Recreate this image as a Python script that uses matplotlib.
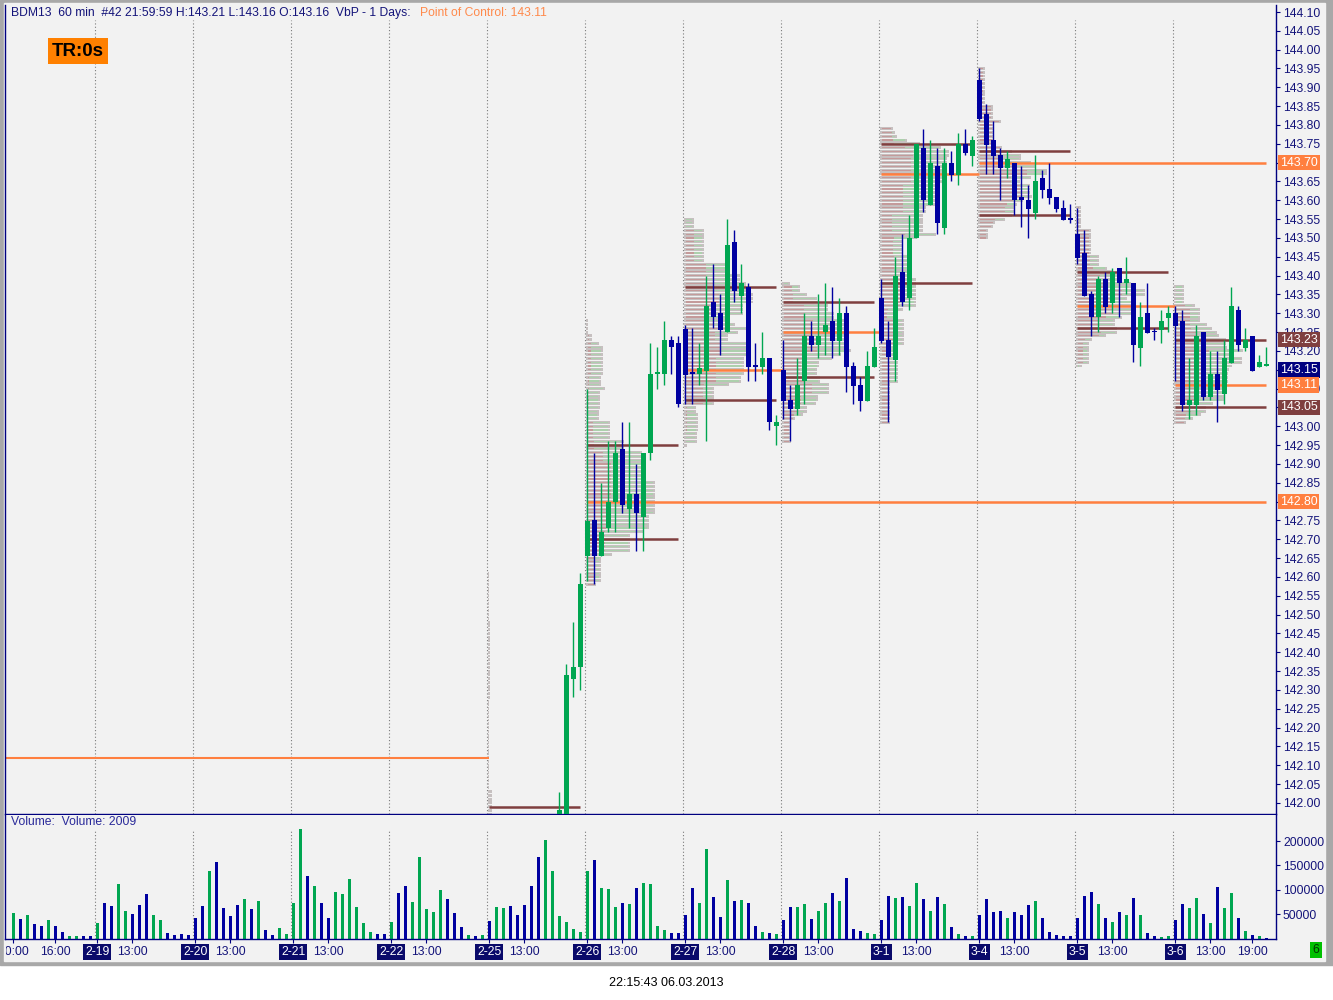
import matplotlib
matplotlib.use("Agg")
import matplotlib.pyplot as plt
import matplotlib.transforms as mtransforms
from matplotlib.patches import Rectangle
import numpy as np

plt.rcParams["font.family"] = ["Liberation Sans", "DejaVu Sans"]

W, H = 1333, 1000
BARS_PER_DAY = 14          # 08:00 .. 21:00 hourly bars
FIRST_VOL_INDEX = -12      # 2-18 10:00
FIRST_OHLC_INDEX = 66      # 2-25 18:00

DAY_LABELS = ["2-19", "2-20", "2-21", "2-22", "2-25", "2-26",
              "2-27", "2-28", "3-1", "3-4", "3-5", "3-6"]

# hourly volume, one list per session
vol_0218 = [52440, 40020, 48300, 29670, 25530, 37950, 25530, 13110, 4830, 4830, 4140, 4830]
vol_0219 = [31740, 73140, 66930, 112470, 56580, 50370, 69000, 91770, 48300, 37950, 11040, 6900, 8970, 6900]
vol_0220 = [42090, 66930, 139380, 155940, 62790, 46230, 69000, 81420, 60720, 77280, 17250, 6900, 21390, 8970]
vol_0221 = [73140, 224250, 129030, 108330, 73140, 42090, 95910, 91770, 122820, 64860, 31740, 13110, 8280, 8970]
vol_0222 = [33810, 93840, 108330, 75210, 166290, 60720, 54510, 100050, 81420, 52440, 23460, 6900, 4830, 6900]
vol_0225 = [35880, 64860, 62790, 66930, 48300, 69000, 108330, 166290, 201480, 139380, 46230, 33810, 19320, 13110]
vol_0226 = [139380, 160080, 104190, 102120, 64860, 73140, 71070, 104190, 114540, 112470, 25530, 17250, 11040, 11040]
vol_0227 = [48300, 104190, 73140, 182850, 85560, 44160, 120750, 77280, 79350, 73140, 25530, 13110, 11040, 8970]
vol_0228 = [37950, 64860, 64860, 71070, 40020, 56580, 73140, 93840, 77280, 124890, 19320, 15180, 11040, 8970]
vol_0301 = [37950, 87630, 83490, 85560, 66930, 114540, 81420, 56580, 85560, 71070, 23460, 8970, 4830, 4830]
vol_0304 = [48300, 81420, 54510, 56580, 42090, 54510, 48300, 69000, 77280, 42090, 13110, 6900, 4140, 4140]
vol_0305 = [42090, 87630, 95910, 71070, 42090, 33810, 54510, 48300, 83490, 48300, 11040, 4830, 2760, 4830]
vol_0306 = [37950, 71070, 62790, 83490, 50370, 31740, 106260, 62790, 93840, 42090, 15180, 6900, 4830, 2009]

# bar direction for the volume colours (g = up, n = down)
dir_text = ("gngnngnnggnn"
            "gnnggnnnggnnnn" "nngnnnngngnngg" "ggngnnggggggnn" "gnngggggnnngng"
            "nggnnnnngggggg" "gngggngnggggnn" "nnggnngngnngng" "nnggnggngnnngg"
            "nngnggngngngng" "nnnngnnngnnnnn" "nnngngngngnngg" "nnggngnggngngn")

# OHLC from 2-25 18:00 to 3-6 21:00
opens = [141.90, 141.95, 142.33, 142.36,
         142.656, 142.750, 142.656, 142.730, 142.800, 142.940, 142.780, 142.820, 142.760, 142.930, 143.140, 143.140, 143.230, 143.220,
         143.258, 143.145, 143.140, 143.147, 143.330, 143.300, 143.250, 143.490, 143.346, 143.370, 143.162, 143.157, 143.180, 143.000,
         143.150, 143.070, 143.046, 143.120, 143.240, 143.216, 143.250, 143.280, 143.227, 143.300, 143.160, 143.110, 143.067, 143.157,
         143.340, 143.230, 143.176, 143.410, 143.340, 143.500, 143.740, 143.587, 143.690, 143.527, 143.700, 143.667, 143.750, 143.717,
         143.920, 143.830, 143.760, 143.720, 143.686, 143.700, 143.610, 143.600, 143.567, 143.660, 143.630, 143.610, 143.580, 143.552,
         143.510, 143.460, 143.350, 143.290, 143.390, 143.327, 143.420, 143.380, 143.380, 143.208, 143.300, 143.252, 143.256, 143.287,
         143.300, 143.280, 143.056, 143.056, 143.250, 143.078, 143.140, 143.086, 143.168, 143.310, 143.208, 143.240, 143.157, 143.160]
highs = [142.03, 142.37, 142.48, 142.61,
         143.100, 142.930, 142.850, 142.960, 142.960, 143.010, 143.010, 142.900, 142.930, 143.220, 143.210, 143.280, 143.240, 143.240,
         143.270, 143.260, 143.220, 143.400, 143.430, 143.350, 143.550, 143.520, 143.430, 143.380, 143.220, 143.250, 143.180, 143.030,
         143.230, 143.110, 143.180, 143.300, 143.280, 143.350, 143.380, 143.370, 143.340, 143.320, 143.170, 143.130, 143.200, 143.260,
         143.390, 143.280, 143.450, 143.510, 143.560, 143.750, 143.790, 143.760, 143.740, 143.740, 143.730, 143.780, 143.790, 143.770,
         143.950, 143.856, 143.810, 143.740, 143.730, 143.700, 143.690, 143.640, 143.720, 143.680, 143.700, 143.610, 143.600, 143.590,
         143.580, 143.520, 143.360, 143.400, 143.410, 143.420, 143.420, 143.450, 143.380, 143.330, 143.380, 143.260, 143.310, 143.320,
         143.320, 143.310, 143.180, 143.270, 143.250, 143.200, 143.200, 143.230, 143.370, 143.320, 143.260, 143.240, 143.190, 143.210]
lows = [141.85, 141.90, 142.28, 142.30,
        142.590, 142.580, 142.656, 142.720, 142.720, 142.770, 142.730, 142.670, 142.670, 142.910, 143.100, 143.110, 143.140, 143.050,
        143.059, 143.060, 143.110, 142.960, 143.260, 143.190, 143.250, 143.330, 143.300, 143.120, 143.120, 143.140, 142.990, 142.950,
        143.020, 142.960, 143.030, 143.060, 143.200, 143.180, 143.190, 143.180, 143.190, 143.090, 143.060, 143.040, 143.067, 143.157,
        143.220, 143.010, 143.120, 143.320, 143.310, 143.500, 143.570, 143.587, 143.510, 143.510, 143.650, 143.640, 143.720, 143.690,
        143.810, 143.670, 143.670, 143.600, 143.660, 143.560, 143.530, 143.500, 143.550, 143.606, 143.590, 143.570, 143.548, 143.540,
        143.430, 143.346, 143.240, 143.250, 143.300, 143.300, 143.290, 143.350, 143.170, 143.160, 143.247, 143.230, 143.220, 143.250,
        143.120, 143.040, 143.020, 143.030, 143.070, 143.070, 143.010, 143.060, 143.168, 143.200, 143.200, 143.146, 143.157, 143.160]
closes = [141.98, 142.34, 142.36, 142.58,
          142.748, 142.656, 142.720, 142.800, 142.930, 142.790, 142.820, 142.770, 142.930, 143.140, 143.142, 143.230, 143.210, 143.060,
          143.137, 143.140, 143.155, 143.320, 143.290, 143.256, 143.480, 143.360, 143.380, 143.157, 143.158, 143.180, 143.010, 143.010,
          143.067, 143.046, 143.110, 143.240, 143.216, 143.240, 143.270, 143.227, 143.300, 143.157, 143.107, 143.067, 143.160, 143.210,
          143.226, 143.185, 143.400, 143.330, 143.500, 143.750, 143.600, 143.700, 143.540, 143.700, 143.667, 143.750, 143.726, 143.760,
          143.816, 143.747, 143.717, 143.686, 143.710, 143.600, 143.600, 143.577, 143.650, 143.627, 143.606, 143.577, 143.548, 143.549,
          143.447, 143.346, 143.290, 143.390, 143.317, 143.410, 143.380, 143.390, 143.216, 143.290, 143.247, 143.250, 143.280, 143.300,
          143.266, 143.056, 143.070, 143.240, 143.078, 143.140, 143.096, 143.180, 143.320, 143.216, 143.230, 143.146, 143.170, 143.162]

# volume-by-price levels per session (2-25 .. 3-6)
vbp_days = [4, 5, 6, 7, 8, 9, 10, 11]
vbp_high = [141.99, 142.95, 143.37, 143.33, 143.75, 143.73, 143.41, 143.23]
vbp_poc = [np.nan, 142.80, 143.15, 143.25, 143.67, 143.70, 143.32, 143.11]
vbp_low = [np.nan, 142.70, 143.07, 143.13, 143.38, 143.56, 143.26, 143.05]
old_poc = 142.12
naked_poc_days = [5, 9]

price_tags = [143.70, 143.23, 143.15, 143.11, 143.05, 142.80]
tag_colors = ["#FF7F3F", "#7F3F3F", "#00007F", "#FF7F3F", "#7F3F3F", "#FF7F3F"]

GREEN = "#00A651"
NAVY = "#0000A0"
POC_C = "#FF7F3F"
VA_C = "#7F3F3F"
TXT = "#14147A"
BG = "#F2F2F2"


def volume_profile(lo, hi, vol, up, tick=0.01):
    start = np.floor(lo.min() / tick) * tick
    levels = np.round(np.arange(start, hi.max() + tick / 2, tick), 2)
    up_v = np.zeros(len(levels))
    dn_v = np.zeros(len(levels))
    for l, h, v, u in zip(lo, hi, vol, up):
        m = (levels >= l - 1e-6) & (levels <= h + 1e-6)
        if not m.any():
            m = np.abs(levels - l) == np.abs(levels - l).min()
        if u:
            up_v[m] += v / m.sum()
        else:
            dn_v[m] += v / m.sum()
    return levels, up_v, dn_v


volumes = np.array(vol_0218 + vol_0219 + vol_0220 + vol_0221 + vol_0222 + vol_0225
                   + vol_0226 + vol_0227 + vol_0228 + vol_0301 + vol_0304 + vol_0305 + vol_0306, float)
vol_x = np.arange(FIRST_VOL_INDEX, FIRST_VOL_INDEX + len(volumes))
vol_up = np.array([c == "g" for c in dir_text])

o = np.array(opens); hh = np.array(highs); ll = np.array(lows); c = np.array(closes)
bx = np.arange(FIRST_OHLC_INDEX, FIRST_OHLC_INDEX + len(o))
last_x = bx[-1]


def px_to_x(px):
    return (px - 97.4) / 7.0


def py_to_price(py):
    return 144.10 - (py - 12) / 376.6


def py_to_vol(py):
    return (938.5 - py) * 200000 / 97.5


def price_label(v, pos):
    # labels hidden behind the coloured price tags are left blank
    if any(abs(v - p) < 0.004 for p in (143.70, 143.15, 143.05, 142.80)):
        return ""
    return f"{v:.2f}"


fig = plt.figure(figsize=(W / 100, H / 100), dpi=100)
fig.patch.set_facecolor("white")
fig.add_artist(Rectangle((0, 35 / H), 1, 965 / H, transform=fig.transFigure,
                         color="#A8A8A8", zorder=-5))
fig.add_artist(Rectangle((4 / W, 39 / H), 1321 / W, 958 / H, transform=fig.transFigure,
                         color=BG, zorder=-4))

ax = fig.add_axes([5 / W, 1 - 814 / H, 1271 / W, 809 / H])
axv = fig.add_axes([5 / W, 1 - 939 / H, 1271 / W, 124 / H])

for a in (ax, axv):
    a.set_facecolor(BG)
    a.set_xlim(px_to_x(5), px_to_x(1276))
    for s in ("left", "right", "bottom"):
        a.spines[s].set_color("#000080")
        a.spines[s].set_linewidth(1.0)
    a.spines["top"].set_visible(False)
    a.yaxis.tick_right()
    a.tick_params(axis="y", colors="#000080", labelcolor=TXT, length=3, width=0.8,
                  labelsize=8.7, pad=2)
    for d in range(len(DAY_LABELS)):
        a.axvline(d * BARS_PER_DAY - 0.35, color="#7A7A7A", lw=0.8, ls=(0, (1, 2)),
                  ymax=0.981 if a is ax else 0.87, zorder=0.5)

ax.set_ylim(py_to_price(814), py_to_price(5))
ax.set_yticks(np.round(np.arange(142.00, 144.101, 0.05), 2))
ax.yaxis.set_major_formatter(plt.FuncFormatter(price_label))
ax.tick_params(axis="x", bottom=False, labelbottom=False)

# volume-by-price histograms
for k, d in enumerate(vbp_days):
    sel = (bx >= d * BARS_PER_DAY) & (bx < (d + 1) * BARS_PER_DAY)
    vi = bx[sel] - FIRST_VOL_INDEX
    lev, up_v, dn_v = volume_profile(ll[sel], hh[sel], volumes[vi], vol_up[vi])
    tot = up_v + dn_v
    maxw = 0.45 if d == 4 else 9.8
    width = tot / tot.max() * maxw
    x0 = d * BARS_PER_DAY - 0.15
    ax.barh(lev, width, height=0.0078, left=x0, color="#C6C0C0", lw=0, zorder=1)
    inner = np.clip(width - 0.6, 0, None) / np.where(tot > 0, tot, 1)
    ax.barh(lev, dn_v * inner, height=0.0032, left=x0 + 0.3, color="#C49A9A", lw=0, zorder=1.1)
    ax.barh(lev, up_v * inner, height=0.0032, left=x0 + 0.3 + dn_v * inner,
            color="#ADD0AD", lw=0, zorder=1.1)

# value area and point of control lines
ax.hlines(old_poc, px_to_x(5), 4 * BARS_PER_DAY - 0.06, color=POC_C, lw=1.5, zorder=2)
for k, d in enumerate(vbp_days):
    x0 = d * BARS_PER_DAY - 0.1
    x_end = min(d * BARS_PER_DAY + 13, last_x)
    ax.hlines([vbp_high[k], vbp_low[k]], x0, x_end, color=VA_C, lw=1.8, zorder=2)
    poc_end = last_x if d in naked_poc_days else min((d + 1) * BARS_PER_DAY, last_x)
    ax.hlines(vbp_poc[k], x0, poc_end, color=POC_C, lw=1.8, zorder=2)

# candles
up = c >= o
cols = np.where(up, GREEN, NAVY)
ax.vlines(bx, ll, hh, colors=cols, lw=1.0, zorder=3)
body_lo = np.minimum(o, c)
body_h = np.maximum(np.abs(c - o), 0.004)
ax.bar(bx, body_h, bottom=body_lo, width=0.72, color=cols, lw=0, zorder=3.1)

# right-hand price tags
tr = mtransforms.blended_transform_factory(ax.transAxes, ax.transData)
for p, col in zip(price_tags, tag_colors):
    ax.text(1 + 4 / 1271, p, f"{p:.2f}", transform=tr, ha="left", va="center",
            fontsize=8.9, color="white", zorder=10, clip_on=False,
            bbox=dict(boxstyle="square,pad=0.15", fc=col, ec="none"))

# volume panel
axv.set_ylim(py_to_vol(939), py_to_vol(815))
axv.bar(vol_x, volumes, width=0.45, color=np.where(vol_up, GREEN, NAVY), lw=0, zorder=2)
axv.set_yticks([50000, 100000, 150000, 200000])
axv.yaxis.set_major_formatter(plt.FormatStrFormatter("%d"))

tick_pos = [FIRST_VOL_INDEX, -6]
tick_lab = ["10:00", "16:00"]
for d, lab in enumerate(DAY_LABELS):
    tick_pos += [d * BARS_PER_DAY, d * BARS_PER_DAY + 5]
    tick_lab += [lab, "13:00"]
tick_pos.append(11 * BARS_PER_DAY + 11)
tick_lab.append("19:00")
axv.set_xticks(tick_pos)
axv.set_xticklabels(tick_lab)
axv.tick_params(axis="x", colors="#000080", labelcolor=TXT, length=3, width=0.8,
                labelsize=8.7, pad=2)
clip = mtransforms.Bbox.from_extents(6, 0, 1276, 1000)
for lab in axv.get_xticklabels():
    if "-" in lab.get_text():
        lab.set_color("white")
        lab.set_bbox(dict(boxstyle="square,pad=0.15", fc="#0A0A6A", ec="none"))
    lab.set_clip_box(clip)
    lab.set_clip_on(True)

# header texts
fig.text(11 / W, 1 - 13 / H, "BDM13  60 min  #42 21:59:59 H:143.21 L:143.16 O:143.16  VbP - 1 Days:",
         fontsize=8.7, color=TXT, va="center")
fig.text(420 / W, 1 - 13 / H, "Point of Control: 143.11", fontsize=8.7, color="#FF8A4C", va="center")
fig.text(52 / W, 1 - 51 / H, "TR:0s", fontsize=13.5, fontweight="bold", color="black", va="center",
         bbox=dict(boxstyle="square,pad=0.22", fc="#FF8000", ec="none"))
fig.text(11 / W, 1 - 822 / H, "Volume:  Volume: 2009", fontsize=8.7, color="#2A2A9A", va="center")
fig.text(1316 / W, 1 - 950 / H, "6", fontsize=8.7, color="#003300", ha="center", va="center",
         bbox=dict(boxstyle="square,pad=0.2", fc="#00C000", ec="none"))
fig.text(666 / W, 1 - 983 / H, "22:15:43 06.03.2013", fontsize=9, color="black",
         ha="center", va="center")

fig.savefig("out.png", dpi=100, facecolor=fig.get_facecolor())
